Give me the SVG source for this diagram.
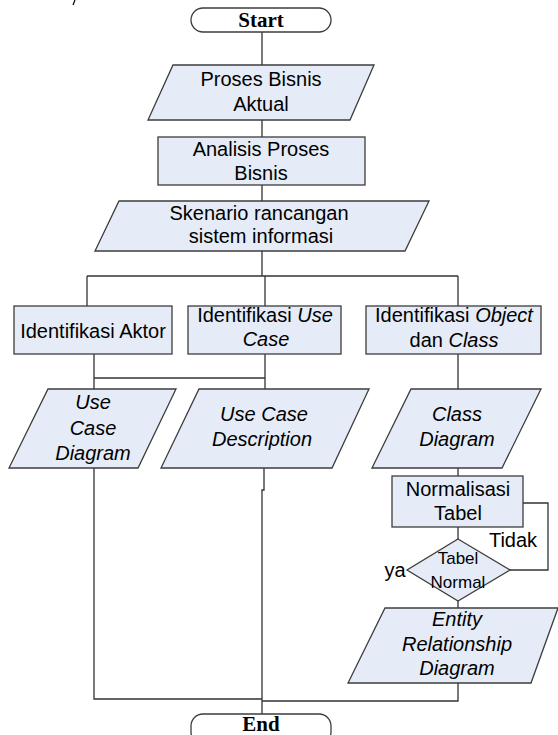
<svg xmlns="http://www.w3.org/2000/svg" width="558" height="735" viewBox="0 0 558 735">
<style>
.n{fill:#e6ecf7;stroke:#3c3c3c;stroke-width:1.3}
.t{fill:#fff;stroke:#3c3c3c;stroke-width:1.3}
.c{fill:none;stroke:#333;stroke-width:1.3}
text{font-family:"Liberation Sans",Arial,sans-serif;font-size:20px;fill:#000;text-anchor:middle}
.tt{font-family:"Liberation Serif","Times New Roman",serif;font-weight:bold;font-size:21px}
.i{font-style:italic}
.s{font-size:17px}
</style>
<rect width="558" height="735" fill="#fff"/>
<path d="M75,0 L73,5" stroke="#000" stroke-width="1.2" fill="none"/>
<g id="connectors">
<path class="c" d="M262,32V65M262,120V137M262,185V201M262,251V276"/>
<path class="c" d="M87,276H458M87,276V306M265,276V306M458,276V306"/>
<path class="c" d="M94,354V389M265,354V389M94,378H265M458,354V389"/>
<path class="c" d="M94,468V699H262"/>
<path class="c" d="M264,468V490H262V714"/>
<path class="c" d="M458,468V476M458,527V539"/>
<path class="c" d="M523,503H548V570H510"/>
<path class="c" d="M458,601V608M458,683V701H262"/>
</g>
<g id="start"><rect class="t" x="191" y="8" width="140" height="24" rx="12"/><text class="tt" x="261" y="27">Start</text></g>
<g id="proses"><polygon class="n" points="173,65 374,65 350,120 148,120"/><text x="261" y="86">Proses Bisnis</text><text x="261" y="111">Aktual</text></g>
<g id="analisis"><rect class="n" x="158" y="137" width="207" height="48"/><text x="261" y="156">Analisis Proses</text><text x="261" y="180">Bisnis</text></g>
<g id="skenario"><polygon class="n" points="119,201 429,201 405,251 95,251"/><text x="259" y="220">Skenario rancangan</text><text x="261" y="243">sistem informasi</text></g>
<g id="aktor"><rect class="n" x="14" y="306" width="158" height="48"/><text x="93" y="338">Identifikasi Aktor</text></g>
<g id="usecase"><rect class="n" x="188" y="306" width="153" height="48"/><text x="265" y="322">Identifikasi <tspan class="i">Use</tspan></text><text class="i" x="266" y="346">Case</text></g>
<g id="object"><rect class="n" x="366" y="306" width="175" height="48"/><text x="454" y="322">Identifikasi <tspan class="i">Object</tspan></text><text x="454" y="347">dan <tspan class="i">Class</tspan></text></g>
<g id="ucd"><polygon class="n" points="48,389 176,389 138,468 9,468"/><text class="i" x="93" y="409">Use</text><text class="i" x="93" y="435">Case</text><text class="i" x="93" y="460">Diagram</text></g>
<g id="ucdesc"><polygon class="n" points="199,389 369,389 332,468 161,468"/><text class="i" x="264" y="421">Use Case</text><text class="i" x="262" y="446">Description</text></g>
<g id="classd"><polygon class="n" points="411,389 541,389 502,468 372,468"/><text class="i" x="457" y="421">Class</text><text class="i" x="457" y="446">Diagram</text></g>
<g id="normalisasi"><rect class="n" x="392" y="476" width="131" height="51"/><text x="458" y="496">Normalisasi</text><text x="458" y="520">Tabel</text></g>
<g id="decision"><polygon class="n" points="458,539 510,570 458,601 407,570"/><text class="s" x="458" y="564">Tabel</text><text class="s" x="458" y="588">Normal</text><text x="513" y="547">Tidak</text><text x="395" y="577">ya</text></g>
<g id="erd"><polygon class="n" points="385,608 558,608 531,683 348,683"/><text class="i" x="457" y="626">Entity</text><text class="i" x="457" y="651">Relationship</text><text class="i" x="457" y="675">Diagram</text></g>
<g id="end"><rect class="t" x="191" y="714" width="140" height="30" rx="12"/><text class="tt" x="261" y="731">End</text></g>
</svg>
